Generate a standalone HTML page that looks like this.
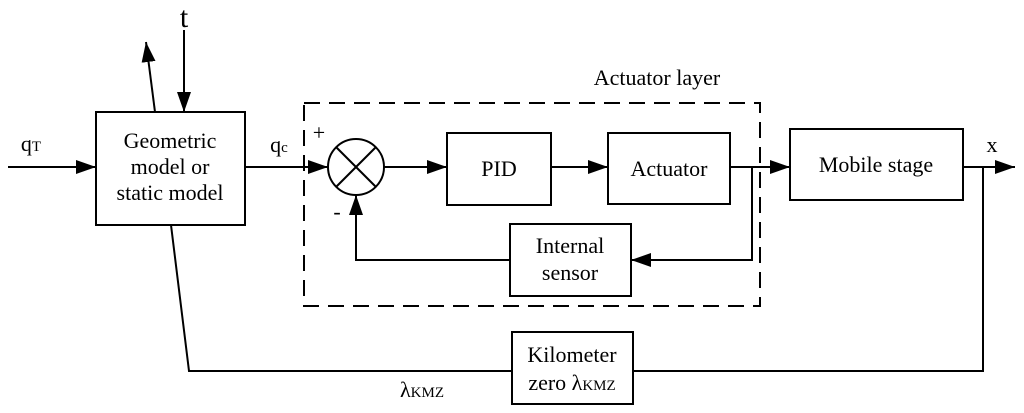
<!DOCTYPE html>
<html><head><style>body{margin:0;background:#fff}svg{display:block}text{font-family:"Liberation Serif",serif;fill:#000}</style></head><body>
<svg width="1024" height="413" viewBox="0 0 1024 413" xmlns="http://www.w3.org/2000/svg">
<defs><marker id="a" markerWidth="20" markerHeight="14" refX="20" refY="7" orient="auto" markerUnits="userSpaceOnUse"><path d="M0,0 L20,7 L0,14 Z" fill="#000"/></marker></defs>
<g stroke="#000" stroke-width="2" fill="none">
<rect x="96" y="112" width="149" height="113"/>
<rect x="447" y="133" width="104" height="72"/>
<rect x="608" y="133" width="122" height="71"/>
<rect x="790" y="129" width="173" height="71"/>
<rect x="510" y="224" width="121" height="72"/>
<rect x="512" y="332" width="121" height="72"/>
<rect x="304" y="103" width="456" height="203" stroke-dasharray="16,9"/>
<circle cx="356" cy="167" r="28"/>
<line x1="336" y1="147" x2="376" y2="187"/><line x1="376" y1="147" x2="336" y2="187"/>
<line x1="8" y1="167" x2="96" y2="167" marker-end="url(#a)"/>
<line x1="184" y1="30" x2="184" y2="112" marker-end="url(#a)"/>
<line x1="155" y1="112" x2="146" y2="42" marker-end="url(#a)"/>
<line x1="245" y1="167" x2="328" y2="167" marker-end="url(#a)"/>
<line x1="384" y1="167" x2="447" y2="167" marker-end="url(#a)"/>
<line x1="551" y1="167" x2="608" y2="167" marker-end="url(#a)"/>
<line x1="730" y1="167" x2="790" y2="167" marker-end="url(#a)"/>
<line x1="963" y1="167" x2="1015" y2="167" marker-end="url(#a)"/>
<polyline points="752,167 752,260 631,260" marker-end="url(#a)"/>
<polyline points="510,260 356,260 356,195" marker-end="url(#a)"/>
<polyline points="171,225 189,371 512,371"/>
<polyline points="633,371 983,371 983,167"/>
</g>
<g font-size="22" text-anchor="middle">
<text x="170" y="148">Geometric</text><text x="170" y="174">model or</text><text x="170" y="200">static model</text>
<text x="499" y="176">PID</text>
<text x="669" y="176">Actuator</text>
<text x="876" y="172">Mobile stage</text>
<text x="570" y="253">Internal</text><text x="570" y="280">sensor</text>
<text x="572" y="362">Kilometer</text><text x="572" y="390">zero λ<tspan font-size="15">KMZ</tspan></text>
<text x="657" y="85">Actuator layer</text>
<text x="992" y="152">x</text>
<text x="184" y="27" font-size="30">t</text>
<text x="31" y="151">q<tspan font-size="15">T</tspan></text>
<text x="279" y="152">q<tspan font-size="15">c</tspan></text>
<text x="319" y="140">+</text>
<text x="337" y="219">-</text>
<text x="422" y="397">λ<tspan font-size="15">KMZ</tspan></text>
</g>
</svg>
</body></html>
